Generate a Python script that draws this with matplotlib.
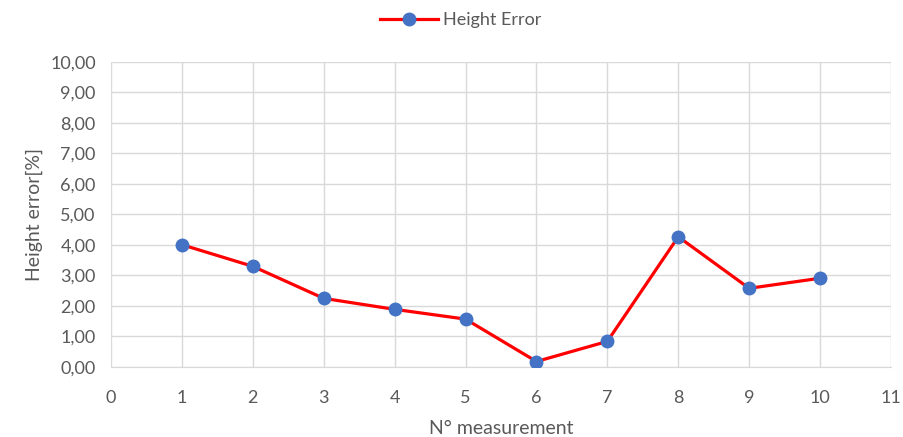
import matplotlib.pyplot as plt
from matplotlib.ticker import FuncFormatter

# data
measurement = [1, 2, 3, 4, 5, 6, 7, 8, 9, 10]
height_error = [4.00, 3.29, 2.24, 1.88, 1.56, 0.17, 0.83, 4.26, 2.57, 2.90]

LINE_COLOR = "#ff0000"
MARKER_COLOR = "#4472c4"
TEXT_COLOR = "#595959"
GRID_COLOR = "#d9d9d9"

plt.rcParams["font.family"] = ["Lato", "DejaVu Sans"]

fig = plt.figure(figsize=(9.04, 4.37), dpi=100)
ax = fig.add_axes([0.1228, 0.1609, 0.8628, 0.6979])

ax.plot(measurement, height_error, color=LINE_COLOR, linewidth=2.3,
        marker="o", markersize=9, markerfacecolor=MARKER_COLOR,
        markeredgecolor=MARKER_COLOR, label="Height Error", zorder=3)

ax.set_xlim(0, 11)
ax.set_ylim(0, 10)
ax.set_xticks(range(0, 12))
ax.set_yticks(range(0, 11))
ax.yaxis.set_major_formatter(FuncFormatter(lambda v, _: f"{v:.2f}".replace(".", ",")))

ax.grid(True, color=GRID_COLOR, linewidth=1)
ax.set_axisbelow(True)
for side in ["left", "right", "top"]:
    ax.spines[side].set_visible(False)
ax.spines["bottom"].set_color(GRID_COLOR)
ax.tick_params(length=0, labelsize=13, labelcolor=TEXT_COLOR)
ax.tick_params(axis="x", pad=17)
ax.tick_params(axis="y", pad=11)

ax.set_xlabel("N° measurement", fontsize=14, color=TEXT_COLOR, labelpad=10)
ax.set_ylabel("Height error[%]", fontsize=14, color=TEXT_COLOR, labelpad=5)

fig.legend(loc="upper center", bbox_to_anchor=(0.51, 1.01), frameon=False,
           fontsize=13, labelcolor=TEXT_COLOR, handlelength=3.2,
           handletextpad=0.3)

fig.savefig("out.png", dpi=100)
